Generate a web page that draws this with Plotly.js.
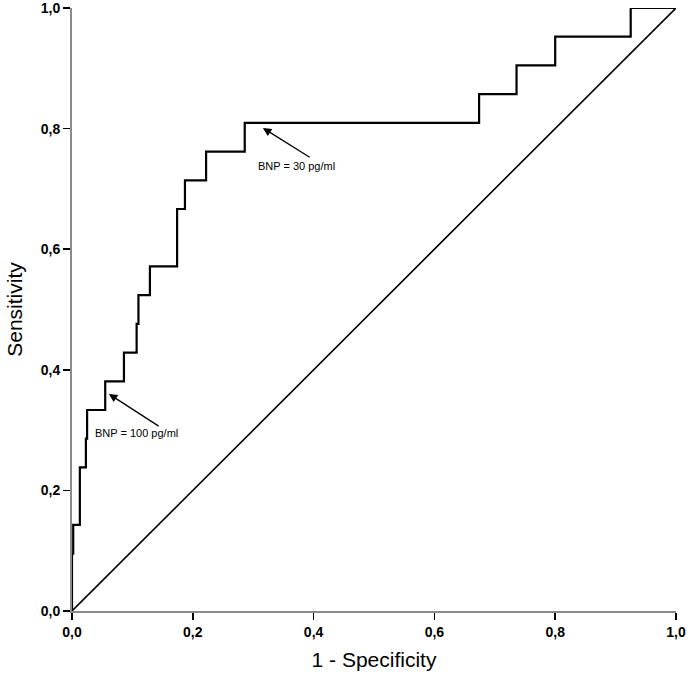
<!DOCTYPE html>
<html>
<head>
<meta charset="utf-8">
<script src="https://cdn.plot.ly/plotly-3.0.1.min.js"></script>
<style>html,body{margin:0;padding:0;background:#fff;}#chart{width:692px;height:681px;}</style>
</head>
<body>
<div id="chart"></div>
<script>
// ROC curve corner points (1 - specificity, sensitivity)
var fpr = [0, 0, 0.002, 0.013, 0.023, 0.025, 0.055, 0.086, 0.107, 0.110, 0.129, 0.174, 0.187, 0.222, 0.286, 0.674, 0.736, 0.800, 0.925, 1.0];
var tpr = [0, 2/21, 3/21, 5/21, 6/21, 7/21, 8/21, 9/21, 10/21, 11/21, 12/21, 14/21, 15/21, 16/21, 17/21, 18/21, 19/21, 20/21, 1, 1];
// Reference line
var refX = [0, 1];
var refY = [0, 1];
var tickVals = [0, 0.2, 0.4, 0.6, 0.8, 1.0];
var annoLabels = ["BNP = 30 pg/ml", "BNP = 100 pg/ml"];

var traces = [
  {x: fpr, y: tpr, type: 'scatter', mode: 'lines', line: {shape: 'hv', color: '#000', width: 2.2}, hoverinfo: 'skip', cliponaxis: false},
  {x: refX, y: refY, type: 'scatter', mode: 'lines', line: {color: '#000', width: 1.6}, hoverinfo: 'skip', cliponaxis: false}
];

var axisCommon = {
  range: [0, 1],
  tickvals: tickVals,
  tickformat: '.1f',
  ticks: 'outside',
  ticklen: 7,
  tickwidth: 1.5,
  tickcolor: '#000',
  showline: true,
  linecolor: '#8a8a8a',
  linewidth: 2,
  showgrid: false,
  zeroline: false,
  automargin: false,
  ticklabeloverflow: 'allow',
  tickfont: {family: 'Liberation Sans, Arial, sans-serif', size: 14, color: '#000', weight: 'bold'}
};

var layout = {
  width: 692, height: 681,
  margin: {l: 72, r: 16, t: 8, b: 70},
  paper_bgcolor: '#fff', plot_bgcolor: '#fff',
  separators: ',.',
  showlegend: false,
  xaxis: Object.assign({}, axisCommon, {
    title: {text: '1 - Specificity', font: {family: 'Liberation Sans, Arial, sans-serif', size: 21, color: '#000'}, standoff: 14}
  }),
  yaxis: Object.assign({}, axisCommon, {
    title: {text: 'Sensitivity', font: {family: 'Liberation Sans, Arial, sans-serif', size: 21, color: '#000'}, standoff: 12}
  }),
  annotations: [
    {x: 0.316, y: 0.801, ax: 0.396, ay: 0.751, axref: 'x', ayref: 'y', xref: 'x', yref: 'y',
     showarrow: true, arrowhead: 2, arrowsize: 1.3, arrowwidth: 1.3, arrowcolor: '#000', text: ''},
    {x: 0.372, y: 0.738, xref: 'x', yref: 'y', showarrow: false, text: annoLabels[0],
     font: {family: 'Liberation Sans, Arial, sans-serif', size: 11, color: '#000'}},
    {x: 0.061, y: 0.360, ax: 0.146, ay: 0.305, axref: 'x', ayref: 'y', xref: 'x', yref: 'y',
     showarrow: true, arrowhead: 2, arrowsize: 1.3, arrowwidth: 1.3, arrowcolor: '#000', text: ''},
    {x: 0.106, y: 0.295, xref: 'x', yref: 'y', showarrow: false, text: annoLabels[1],
     font: {family: 'Liberation Sans, Arial, sans-serif', size: 11, color: '#000'}}
  ]
};

Plotly.newPlot('chart', traces, layout, {displayModeBar: false, staticPlot: true});
</script>
</body>
</html>
